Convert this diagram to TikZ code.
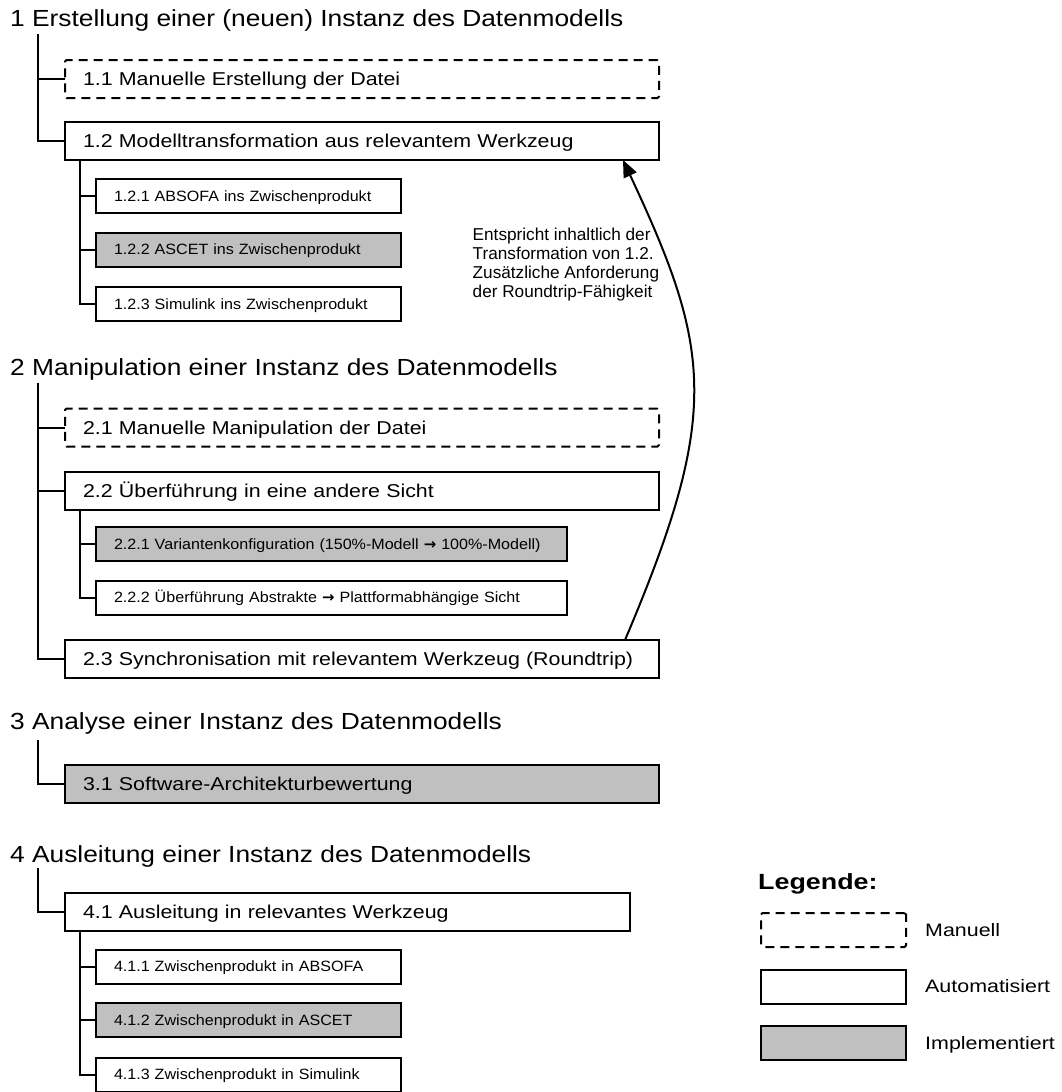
\documentclass[tikz,border=0pt]{standalone}
\usepackage{fontspec}
\setmainfont{Liberation Sans}
\newfontfamily\headfont{Liberation Sans}[FakeStretch=1.13]
\newfontfamily\subfont{Liberation Sans}[FakeStretch=1.15]
\newfontfamily\leaffont{Liberation Sans}[FakeStretch=1.08]
\newfontfamily\legfont{Liberation Sans}[FakeStretch=1.19]
\newfontfamily\legheadfont{Liberation Sans}[FakeStretch=1.22]
\newfontfamily\symfont{DejaVu Sans}
\newcommand{\toarrow}{{\symfont\bfseries →}}
\usetikzlibrary{arrows.meta}
\definecolor{implgray}{RGB}{192,192,192}

\begin{document}
\begin{tikzpicture}[x=1pt,y=-1pt,
  heading/.style={anchor=base west, inner sep=0pt,
    font=\headfont\fontsize{23.3}{28}\selectfont},
  box/.style={draw, line width=2pt, rectangle, outer sep=0pt,
    anchor=north west, align=left, inner xsep=18pt, inner ysep=0pt},
  lvltwo/.style={box, minimum height=38pt, text width=558pt,
    text height=13.3pt, text depth=0pt,
    font=\subfont\fontsize{18.6}{22}\selectfont},
  lvlthree/.style={box, minimum height=34pt, text width=269pt,
    text height=10.7pt, text depth=0pt,
    font=\leaffont\fontsize{14.9}{18}\selectfont},
  manual/.style={dash pattern=on 9pt off 6pt, rounded corners=1.5pt},
  impl/.style={fill=implgray},
  tree/.style={line width=2pt},
  legbox/.style={draw, line width=2pt, rectangle, outer sep=0pt,
    anchor=north west, minimum width=145pt, minimum height=34pt, inner sep=0pt},
  legtext/.style={anchor=west, inner sep=0pt, text height=12.9pt, text depth=0pt,
    font=\legfont\fontsize{18}{22}\selectfont},
  note/.style={anchor=north west, align=left, inner sep=0pt,
    font=\fontsize{17.2}{18.9}\selectfont},
  backarrow/.style={line width=2pt, -{Triangle[length=17pt,width=14pt]}}
]
\useasboundingbox (0,0) rectangle (1062,1092);

% ---------- 1 Erstellung ----------
\node[heading] (h1) at (10,27) {1 Erstellung einer (neuen) Instanz des Datenmodells};
\node[lvltwo, manual] (b11) at (65,60) {1.1 Manuelle Erstellung der Datei};
\node[lvltwo] (b12) at (65,122) {1.2 Modelltransformation aus relevantem Werkzeug};
\node[lvlthree] (b121) at (96,179) {1.2.1 ABSOFA ins Zwischenprodukt};
\node[lvlthree, impl] (b122) at (96,232.5) {1.2.2 ASCET ins Zwischenprodukt};
\node[lvlthree] (b123) at (96,287) {1.2.3 Simulink ins Zwischenprodukt};

\coordinate (r1) at (38,34);
\draw[tree] (r1) |- (b11.west);
\draw[tree] (r1) |- (b12.west);
\coordinate (s12) at ([xshift=15pt]b12.south west);
\draw[tree] (s12) |- (b121.west);
\draw[tree] (s12) |- (b122.west);
\draw[tree] (s12) |- (b123.west);

% ---------- 2 Manipulation ----------
\node[heading] (h2) at (10,375.5) {2 Manipulation einer Instanz des Datenmodells};
\node[lvltwo, manual] (b21) at (65,408.5) {2.1 Manuelle Manipulation der Datei};
\node[lvltwo] (b22) at (65,471.5) {2.2 Überführung in eine andere Sicht};
\node[lvlthree, impl, text width=435pt] (b221) at (96,527) {2.2.1 Variantenkonfiguration (150\%-Modell \toarrow{} 100\%-Modell)};
\node[lvlthree, text width=435pt] (b222) at (96,580.5) {2.2.2 Überführung Abstrakte \toarrow{} Plattformabhängige Sicht};
\node[lvltwo] (b23) at (65,640) {2.3 Synchronisation mit relevantem Werkzeug (Roundtrip)};

\coordinate (r2) at (38,383);
\draw[tree] (r2) |- (b21.west);
\draw[tree] (r2) |- (b22.west);
\draw[tree] (r2) |- (b23.west);
\coordinate (s22) at ([xshift=15pt]b22.south west);
\draw[tree] (s22) |- (b221.west);
\draw[tree] (s22) |- (b222.west);

% ---------- 3 Analyse ----------
\node[heading] (h3) at (10,729.5) {3 Analyse einer Instanz des Datenmodells};
\node[lvltwo, impl] (b31) at (65,765) {3.1 Software-Architekturbewertung};
\coordinate (r3) at (38,740);
\draw[tree] (r3) |- (b31.west);

% ---------- 4 Ausleitung ----------
\node[heading] (h4) at (10,862) {4 Ausleitung einer Instanz des Datenmodells};
\node[lvltwo, text width=529pt] (b41) at (65,893) {4.1 Ausleitung in relevantes Werkzeug};
\node[lvlthree] (b411) at (96,949.5) {4.1.1 Zwischenprodukt in ABSOFA};
\node[lvlthree, impl] (b412) at (96,1003) {4.1.2 Zwischenprodukt in ASCET};
\node[lvlthree] (b413) at (96,1057.5) {4.1.3 Zwischenprodukt in Simulink};

\coordinate (r4) at (38,868);
\draw[tree] (r4) |- (b41.west);
\coordinate (s41) at ([xshift=15pt]b41.south west);
\draw[tree] (s41) |- (b411.west);
\draw[tree] (s41) |- (b412.west);
\draw[tree] (s41) |- (b413.west);

% ---------- Roundtrip back reference ----------
\node[note] (n1) at (472.5,228) {Entspricht inhaltlich der\\Transformation von 1.2.\\Zusätzliche Anforderung\\der Roundtrip-Fähigkeit};
\coordinate (aS) at ([xshift=-34pt]b23.north east);
\coordinate (aE) at ([xshift=-36pt]b12.south east);
\draw[backarrow] (aS) .. controls (721,414) and (712,350) .. (aE);

% ---------- Legend ----------
\node[anchor=base west, inner sep=0pt,
      font=\legheadfont\bfseries\fontsize{22}{26}\selectfont] (lg) at (758,889) {Legende:};
\node[legbox, manual] (lgm) at (761,913) {};
\node[legbox] (lga) at (761,969.5) {};
\node[legbox, impl] (lgi) at (761,1026) {};
\node[legtext] (lgmt) at ([xshift=19pt]lgm.east) {Manuell};
\node[legtext] (lgat) at ([xshift=19pt]lga.east) {Automatisiert};
\node[legtext] (lgit) at ([xshift=19pt]lgi.east) {Implementiert};
\end{tikzpicture}
\end{document}
